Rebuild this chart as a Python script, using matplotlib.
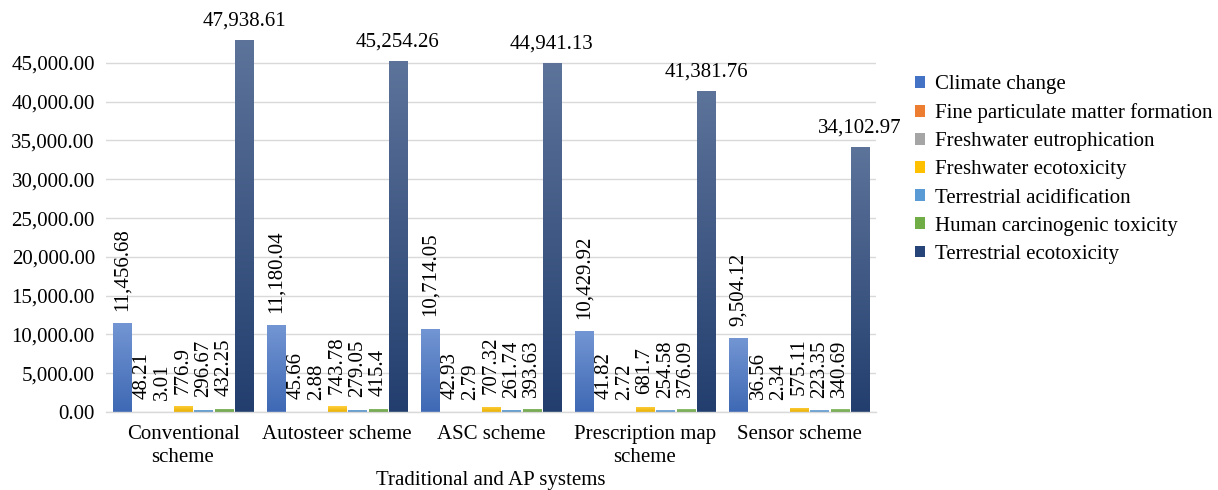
import matplotlib
matplotlib.use("Agg")
import matplotlib.pyplot as plt
import matplotlib.colors as mcolors
from matplotlib.ticker import FuncFormatter
import numpy as np

plt.rcParams['font.family'] = ['Liberation Serif', 'DejaVu Serif']

schemes = ["Conventional\nscheme", "Autosteer scheme", "ASC scheme",
           "Prescription map\nscheme", "Sensor scheme"]

categories = ["Climate change", "Fine particulate matter formation",
              "Freshwater eutrophication", "Freshwater ecotoxicity",
              "Terrestrial acidification", "Human carcinogenic toxicity",
              "Terrestrial ecotoxicity"]

climate_change = [11456.68, 11180.04, 10714.05, 10429.92, 9504.12]
fine_particulate = [48.21, 45.66, 42.93, 41.82, 36.56]
fw_eutrophication = [3.01, 2.88, 2.79, 2.72, 2.34]
fw_ecotoxicity = [776.9, 743.78, 707.32, 681.7, 575.11]
terr_acidification = [296.67, 279.05, 261.74, 254.58, 223.35]
human_carcinogenic = [432.25, 415.4, 393.63, 376.09, 340.69]
terr_ecotoxicity = [47938.61, 45254.26, 44941.13, 41381.76, 34102.97]

series = [climate_change, fine_particulate, fw_eutrophication, fw_ecotoxicity,
          terr_acidification, human_carcinogenic, terr_ecotoxicity]

colors = ["#4472C4", "#ED7D31", "#A5A5A5", "#FFC000", "#5B9BD5", "#70AD47", "#264478"]


def fmt_value(v):
    s = f"{v:,.2f}"
    return s.rstrip('0').rstrip('.')


def gradient_bar(ax, rect, color):
    # vertical gradient, lighter at the top like the office chart style
    base = np.array(mcolors.to_rgb(color))
    top = base + (1 - base) * 0.25
    bottom = base * 0.92
    t = np.linspace(0, 1, 64)[:, None]
    grad = top * (1 - t) + bottom * t
    img = grad[:, None, :]
    x0, y0 = rect.get_x(), rect.get_y()
    w, h = rect.get_width(), rect.get_height()
    im = ax.imshow(img, extent=(x0, x0 + w, y0, y0 + h), aspect='auto',
                   origin='upper', zorder=2, interpolation='bilinear')
    im.set_clip_path(rect)
    rect.set_facecolor('none')


fig = plt.figure(figsize=(12.18, 4.9), dpi=100)
ax = fig.add_axes([106 / 1218, 0.159, 770 / 1218, 0.792])

n = len(series)
x = np.arange(len(schemes))
slot = 0.132
width = 0.118

for i, (vals, col, name) in enumerate(zip(series, colors, categories)):
    pos = x + (i - (n - 1) / 2) * slot
    bars = ax.bar(pos, vals, width=width, color=col, label=name, zorder=2)
    for b, v in zip(bars, vals):
        gradient_bar(ax, b, col)
        cx = b.get_x() + b.get_width() / 2
        if i == n - 1:
            ax.annotate(fmt_value(v), (cx, v), xytext=(0, 7), textcoords='offset points',
                        ha='center', va='bottom', fontsize=15)
        else:
            ax.annotate(fmt_value(v), (cx, v), xytext=(0, 9), textcoords='offset points',
                        ha='center', va='bottom', fontsize=15, rotation=90)

ax.set_xlim(-0.5, len(schemes) - 0.5)
ax.set_ylim(0, 50000)
ax.set_yticks(np.arange(0, 45001, 5000))
ax.yaxis.set_major_formatter(FuncFormatter(lambda v, p: f"{v:,.2f}"))
ax.set_xticks(x)
ax.set_xticklabels(schemes, fontsize=15, linespacing=1.35)
ax.tick_params(axis='y', length=0, pad=8, labelsize=15)
ax.tick_params(axis='x', length=0, pad=9)
ax.grid(axis='y', color='#d9d9d9', linewidth=1, zorder=0)
ax.set_axisbelow(True)
for s in ['top', 'right', 'left']:
    ax.spines[s].set_visible(False)
ax.spines['bottom'].set_color('#d9d9d9')
ax.spines['bottom'].set_linewidth(1)
ax.set_xlabel("Traditional and AP systems", fontsize=15, va='center')
ax.xaxis.set_label_coords(0.5, -0.175)

handles = [plt.Rectangle((0, 0), 1, 1, facecolor=c, edgecolor='none') for c in colors]
ax.legend(handles, categories, loc='upper left', bbox_to_anchor=(915 / 1218, 1 - 75 / 490),
          bbox_transform=fig.transFigure, frameon=False, fontsize=15,
          handlelength=0.5, handleheight=0.5, handletextpad=0.45, labelspacing=0.44,
          borderaxespad=0, borderpad=0)

fig.savefig("out.png", dpi=100)
